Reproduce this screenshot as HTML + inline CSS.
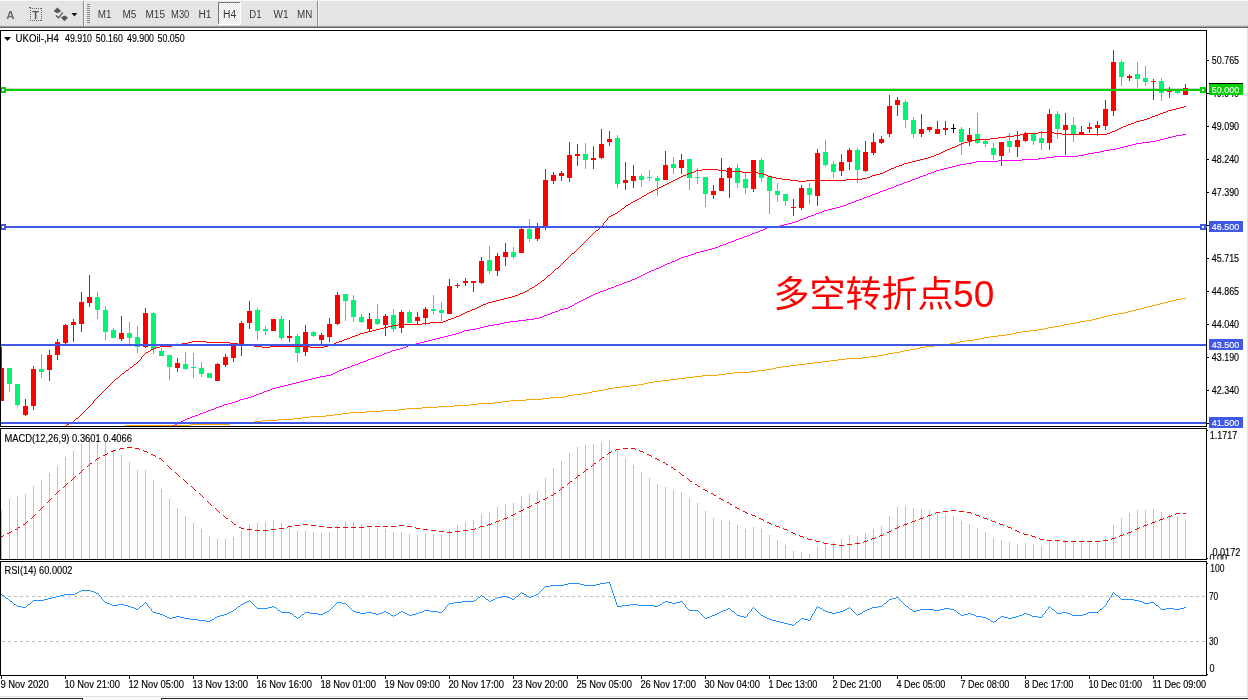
<!DOCTYPE html>
<html><head><meta charset="utf-8"><title>UKOil H4</title>
<style>
html,body{margin:0;padding:0;background:#fff;}
body{width:1248px;height:700px;overflow:hidden;position:relative;}
svg{position:absolute;left:0;top:0;display:block;will-change:transform;}
text{font-family:"Liberation Sans","Noto Sans CJK SC",sans-serif;font-size:10.2px;fill:#000;stroke:#000;stroke-width:0.15px;}
.w{stroke:#fff;}
.tb{stroke:none;}
.c{shape-rendering:crispEdges;}
.tb{fill:#3a3a3a;font-size:10px;}
.w{fill:#fff;font-size:9.8px;}
</style></head><body>
<svg width="1248" height="700" viewBox="0 0 1248 700">

<g class="c">
<rect x="0" y="0" width="1248" height="26" fill="#e4e4e4"/>
<rect x="0" y="0" width="1248" height="1" fill="#f8f8f8"/>
<pattern id="chk" width="2" height="2" patternUnits="userSpaceOnUse"><rect width="2" height="2" fill="#e4e4e4"/><rect width="1" height="1" fill="#fff"/><rect x="1" y="1" width="1" height="1" fill="#fff"/></pattern>
<rect x="0" y="25" width="1248" height="1" fill="#d6d6d6"/>
<rect x="0" y="26" width="1248" height="1" fill="#a0a0a0"/>
<rect x="0" y="27" width="1248" height="1" fill="#646464"/>
<rect x="0" y="28" width="1248" height="2" fill="#ffffff"/>
<rect x="83" y="1" width="1" height="25" fill="#8c8c8c"/>
<rect x="84" y="1" width="1" height="25" fill="#f8f8f8"/>
<rect x="87" y="4" width="3" height="1" fill="#8a8a8a"/>
<rect x="87" y="6" width="3" height="1" fill="#8a8a8a"/>
<rect x="87" y="8" width="3" height="1" fill="#8a8a8a"/>
<rect x="87" y="10" width="3" height="1" fill="#8a8a8a"/>
<rect x="87" y="12" width="3" height="1" fill="#8a8a8a"/>
<rect x="87" y="14" width="3" height="1" fill="#8a8a8a"/>
<rect x="87" y="16" width="3" height="1" fill="#8a8a8a"/>
<rect x="87" y="18" width="3" height="1" fill="#8a8a8a"/>
<rect x="87" y="20" width="3" height="1" fill="#8a8a8a"/>
<rect x="87" y="22" width="3" height="1" fill="#8a8a8a"/>
<rect x="317" y="1" width="1" height="25" fill="#8c8c8c"/>
<rect x="318" y="1" width="1" height="25" fill="#f8f8f8"/>
<rect x="219" y="3" width="21" height="21" fill="url(#chk)"/>
<rect x="218" y="2" width="22" height="1" fill="#7a7a7a"/><rect x="218" y="2" width="1" height="22" fill="#7a7a7a"/>
<rect x="218" y="24" width="23" height="1" fill="#ffffff"/><rect x="240" y="2" width="1" height="23" fill="#ffffff"/>
<rect x="30" y="8" width="1" height="1" fill="#666"/><rect x="30" y="20" width="1" height="1" fill="#666"/>
<rect x="32" y="8" width="1" height="1" fill="#666"/><rect x="32" y="20" width="1" height="1" fill="#666"/>
<rect x="34" y="8" width="1" height="1" fill="#666"/><rect x="34" y="20" width="1" height="1" fill="#666"/>
<rect x="36" y="8" width="1" height="1" fill="#666"/><rect x="36" y="20" width="1" height="1" fill="#666"/>
<rect x="38" y="8" width="1" height="1" fill="#666"/><rect x="38" y="20" width="1" height="1" fill="#666"/>
<rect x="40" y="8" width="1" height="1" fill="#666"/><rect x="40" y="20" width="1" height="1" fill="#666"/>
<rect x="41" y="8" width="1" height="1" fill="#666"/><rect x="41" y="20" width="1" height="1" fill="#666"/>
<rect x="30" y="10" width="1" height="1" fill="#666"/><rect x="41" y="10" width="1" height="1" fill="#666"/>
<rect x="30" y="12" width="1" height="1" fill="#666"/><rect x="41" y="12" width="1" height="1" fill="#666"/>
<rect x="30" y="14" width="1" height="1" fill="#666"/><rect x="41" y="14" width="1" height="1" fill="#666"/>
<rect x="30" y="16" width="1" height="1" fill="#666"/><rect x="41" y="16" width="1" height="1" fill="#666"/>
<rect x="30" y="18" width="1" height="1" fill="#666"/><rect x="41" y="18" width="1" height="1" fill="#666"/>
<rect x="29" y="7" width="2" height="1" fill="#666"/>
</g>
<path d="M57.4 7.6 L61.2 11.2 L57.4 13.2 L53.6 11.2Z M64.4 15.4 L68.2 17.6 L64.4 21.2 L60.8 17.6Z" fill="#555"/>
<path d="M55.8 15.6 L58.6 17.8 L62.9 12.3" fill="none" stroke="#555" stroke-width="1.3"/>
<path d="M71.5 13 L77.3 13 L74.4 16.4Z" fill="#111"/>
<text x="6.3" y="18.8" style="font-size:11.6px;font-weight:bold;fill:#6a6a6a;stroke:none">A</text>
<text x="32.2" y="18.9" style="font-size:11px;font-weight:bold;fill:#5a5a5a;stroke:none">T</text>
<text class="tb" x="97.8" y="18" textLength="13.7" lengthAdjust="spacingAndGlyphs">M1</text>
<text class="tb" x="122.5" y="18" textLength="13.9" lengthAdjust="spacingAndGlyphs">M5</text>
<text class="tb" x="145.5" y="18" textLength="19.5" lengthAdjust="spacingAndGlyphs">M15</text>
<text class="tb" x="171.1" y="18" textLength="18.2" lengthAdjust="spacingAndGlyphs">M30</text>
<text class="tb" x="198.4" y="18" textLength="13" lengthAdjust="spacingAndGlyphs">H1</text>
<text class="tb" x="223.1" y="18" textLength="13.2" lengthAdjust="spacingAndGlyphs">H4</text>
<text class="tb" x="249.2" y="18" textLength="12.3" lengthAdjust="spacingAndGlyphs">D1</text>
<text class="tb" x="273.5" y="18" textLength="15" lengthAdjust="spacingAndGlyphs">W1</text>
<text class="tb" x="297.1" y="18" textLength="15.3" lengthAdjust="spacingAndGlyphs">MN</text>
<g class="c">
<rect x="0" y="30" width="1207" height="646" fill="#fff"/>
<rect x="1247" y="28" width="1" height="669" fill="#e3e3e3"/>
</g>
<g class="c">
<rect x="1" y="88" width="1205" height="1" fill="#d2d2d2"/>
<rect x="1" y="347" width="1" height="54" fill="#ff0000"/>
<rect x="1" y="368" width="3" height="33" fill="#ff0000"/>
<rect x="9" y="368" width="1" height="24" fill="#00f576"/>
<rect x="7" y="368" width="5" height="16" fill="#00f576"/>
<rect x="17" y="384" width="1" height="23" fill="#00f576"/>
<rect x="15" y="384" width="5" height="21" fill="#00f576"/>
<rect x="25" y="399" width="1" height="17" fill="#ff0000"/>
<rect x="23" y="406" width="5" height="9" fill="#ff0000"/>
<rect x="33" y="366" width="1" height="44" fill="#ff0000"/>
<rect x="31" y="369" width="5" height="37" fill="#ff0000"/>
<rect x="41" y="354" width="1" height="24" fill="#00f576"/>
<rect x="39" y="369" width="5" height="3" fill="#00f576"/>
<rect x="49" y="350" width="1" height="31" fill="#ff0000"/>
<rect x="47" y="355" width="5" height="15" fill="#ff0000"/>
<rect x="57" y="339" width="1" height="21" fill="#ff0000"/>
<rect x="55" y="342" width="5" height="13" fill="#ff0000"/>
<rect x="65" y="324" width="1" height="20" fill="#ff0000"/>
<rect x="63" y="325" width="5" height="18" fill="#ff0000"/>
<rect x="73" y="319" width="1" height="23" fill="#ff0000"/>
<rect x="71" y="322" width="5" height="3" fill="#ff0000"/>
<rect x="81" y="292" width="1" height="40" fill="#ff0000"/>
<rect x="79" y="302" width="5" height="22" fill="#ff0000"/>
<rect x="89" y="275" width="1" height="32" fill="#ff0000"/>
<rect x="87" y="297" width="5" height="6" fill="#ff0000"/>
<rect x="97" y="292" width="1" height="27" fill="#00f576"/>
<rect x="95" y="297" width="5" height="13" fill="#00f576"/>
<rect x="105" y="306" width="1" height="34" fill="#00f576"/>
<rect x="103" y="310" width="5" height="22" fill="#00f576"/>
<rect x="113" y="328" width="1" height="10" fill="#00f576"/>
<rect x="111" y="330" width="5" height="8" fill="#00f576"/>
<rect x="121" y="316" width="1" height="25" fill="#ff0000"/>
<rect x="119" y="333" width="5" height="6" fill="#ff0000"/>
<rect x="129" y="322" width="1" height="22" fill="#00f576"/>
<rect x="127" y="333" width="5" height="5" fill="#00f576"/>
<rect x="137" y="326" width="1" height="27" fill="#00f576"/>
<rect x="135" y="337" width="5" height="10" fill="#00f576"/>
<rect x="145" y="308" width="1" height="40" fill="#ff0000"/>
<rect x="143" y="313" width="5" height="34" fill="#ff0000"/>
<rect x="153" y="312" width="1" height="42" fill="#00f576"/>
<rect x="151" y="313" width="5" height="36" fill="#00f576"/>
<rect x="161" y="348" width="1" height="8" fill="#00f576"/>
<rect x="159" y="351" width="5" height="5" fill="#00f576"/>
<rect x="169" y="355" width="1" height="25" fill="#00f576"/>
<rect x="167" y="355" width="5" height="12" fill="#00f576"/>
<rect x="177" y="358" width="1" height="14" fill="#ff0000"/>
<rect x="175" y="363" width="5" height="5" fill="#ff0000"/>
<rect x="185" y="352" width="1" height="18" fill="#00f576"/>
<rect x="183" y="364" width="5" height="5" fill="#00f576"/>
<rect x="193" y="353" width="1" height="25" fill="#00f576"/>
<rect x="191" y="367" width="5" height="1" fill="#00f576"/>
<rect x="201" y="362" width="1" height="15" fill="#00f576"/>
<rect x="199" y="368" width="5" height="6" fill="#00f576"/>
<rect x="209" y="373" width="1" height="5" fill="#00f576"/>
<rect x="207" y="373" width="5" height="5" fill="#00f576"/>
<rect x="217" y="363" width="1" height="18" fill="#ff0000"/>
<rect x="215" y="364" width="5" height="17" fill="#ff0000"/>
<rect x="225" y="354" width="1" height="13" fill="#ff0000"/>
<rect x="223" y="357" width="5" height="8" fill="#ff0000"/>
<rect x="233" y="343" width="1" height="19" fill="#ff0000"/>
<rect x="231" y="345" width="5" height="13" fill="#ff0000"/>
<rect x="241" y="321" width="1" height="35" fill="#ff0000"/>
<rect x="239" y="323" width="5" height="21" fill="#ff0000"/>
<rect x="249" y="301" width="1" height="28" fill="#ff0000"/>
<rect x="247" y="311" width="5" height="12" fill="#ff0000"/>
<rect x="257" y="308" width="1" height="32" fill="#00f576"/>
<rect x="255" y="310" width="5" height="21" fill="#00f576"/>
<rect x="265" y="326" width="1" height="9" fill="#00f576"/>
<rect x="263" y="329" width="5" height="2" fill="#00f576"/>
<rect x="273" y="319" width="1" height="12" fill="#ff0000"/>
<rect x="271" y="319" width="5" height="12" fill="#ff0000"/>
<rect x="281" y="316" width="1" height="24" fill="#00f576"/>
<rect x="279" y="319" width="5" height="19" fill="#00f576"/>
<rect x="289" y="320" width="1" height="22" fill="#ff0000"/>
<rect x="287" y="336" width="5" height="2" fill="#ff0000"/>
<rect x="297" y="334" width="1" height="28" fill="#00f576"/>
<rect x="295" y="336" width="5" height="17" fill="#00f576"/>
<rect x="305" y="325" width="1" height="31" fill="#ff0000"/>
<rect x="303" y="332" width="5" height="20" fill="#ff0000"/>
<rect x="313" y="331" width="1" height="6" fill="#00f576"/>
<rect x="311" y="332" width="5" height="4" fill="#00f576"/>
<rect x="321" y="333" width="1" height="13" fill="#ff0000"/>
<rect x="319" y="335" width="5" height="5" fill="#ff0000"/>
<rect x="329" y="318" width="1" height="24" fill="#ff0000"/>
<rect x="327" y="324" width="5" height="13" fill="#ff0000"/>
<rect x="337" y="292" width="1" height="33" fill="#ff0000"/>
<rect x="335" y="295" width="5" height="29" fill="#ff0000"/>
<rect x="345" y="294" width="1" height="27" fill="#00f576"/>
<rect x="343" y="294" width="5" height="7" fill="#00f576"/>
<rect x="353" y="295" width="1" height="27" fill="#00f576"/>
<rect x="351" y="300" width="5" height="17" fill="#00f576"/>
<rect x="361" y="314" width="1" height="9" fill="#00f576"/>
<rect x="359" y="317" width="5" height="5" fill="#00f576"/>
<rect x="369" y="313" width="1" height="19" fill="#ff0000"/>
<rect x="367" y="319" width="5" height="10" fill="#ff0000"/>
<rect x="377" y="304" width="1" height="21" fill="#00f576"/>
<rect x="375" y="319" width="5" height="5" fill="#00f576"/>
<rect x="385" y="314" width="1" height="22" fill="#ff0000"/>
<rect x="383" y="316" width="5" height="9" fill="#ff0000"/>
<rect x="393" y="309" width="1" height="23" fill="#00f576"/>
<rect x="391" y="315" width="5" height="14" fill="#00f576"/>
<rect x="401" y="310" width="1" height="23" fill="#ff0000"/>
<rect x="399" y="312" width="5" height="16" fill="#ff0000"/>
<rect x="409" y="310" width="1" height="13" fill="#00f576"/>
<rect x="407" y="312" width="5" height="11" fill="#00f576"/>
<rect x="417" y="312" width="1" height="12" fill="#ff0000"/>
<rect x="415" y="317" width="5" height="4" fill="#ff0000"/>
<rect x="425" y="307" width="1" height="18" fill="#ff0000"/>
<rect x="423" y="309" width="5" height="9" fill="#ff0000"/>
<rect x="433" y="295" width="1" height="20" fill="#00f576"/>
<rect x="431" y="309" width="5" height="2" fill="#00f576"/>
<rect x="441" y="302" width="1" height="19" fill="#00f576"/>
<rect x="439" y="310" width="5" height="3" fill="#00f576"/>
<rect x="449" y="279" width="1" height="35" fill="#ff0000"/>
<rect x="447" y="286" width="5" height="28" fill="#ff0000"/>
<rect x="457" y="283" width="1" height="5" fill="#ff0000"/>
<rect x="455" y="285" width="5" height="1" fill="#ff0000"/>
<rect x="465" y="278" width="1" height="8" fill="#ff0000"/>
<rect x="463" y="281" width="5" height="2" fill="#ff0000"/>
<rect x="473" y="281" width="1" height="11" fill="#ff0000"/>
<rect x="471" y="281" width="5" height="2" fill="#ff0000"/>
<rect x="481" y="257" width="1" height="27" fill="#ff0000"/>
<rect x="479" y="261" width="5" height="22" fill="#ff0000"/>
<rect x="489" y="246" width="1" height="28" fill="#00f576"/>
<rect x="487" y="260" width="5" height="11" fill="#00f576"/>
<rect x="497" y="253" width="1" height="23" fill="#ff0000"/>
<rect x="495" y="256" width="5" height="15" fill="#ff0000"/>
<rect x="505" y="243" width="1" height="23" fill="#ff0000"/>
<rect x="503" y="252" width="5" height="5" fill="#ff0000"/>
<rect x="513" y="247" width="1" height="12" fill="#00f576"/>
<rect x="511" y="252" width="5" height="5" fill="#00f576"/>
<rect x="521" y="228" width="1" height="25" fill="#ff0000"/>
<rect x="519" y="229" width="5" height="24" fill="#ff0000"/>
<rect x="529" y="219" width="1" height="23" fill="#00f576"/>
<rect x="527" y="229" width="5" height="10" fill="#00f576"/>
<rect x="537" y="223" width="1" height="18" fill="#ff0000"/>
<rect x="535" y="228" width="5" height="11" fill="#ff0000"/>
<rect x="545" y="169" width="1" height="61" fill="#ff0000"/>
<rect x="543" y="180" width="5" height="47" fill="#ff0000"/>
<rect x="553" y="172" width="1" height="12" fill="#ff0000"/>
<rect x="551" y="175" width="5" height="6" fill="#ff0000"/>
<rect x="561" y="171" width="1" height="10" fill="#ff0000"/>
<rect x="559" y="173" width="5" height="3" fill="#ff0000"/>
<rect x="569" y="142" width="1" height="40" fill="#ff0000"/>
<rect x="567" y="155" width="5" height="23" fill="#ff0000"/>
<rect x="577" y="144" width="1" height="22" fill="#ff0000"/>
<rect x="575" y="154" width="5" height="2" fill="#ff0000"/>
<rect x="585" y="143" width="1" height="26" fill="#00f576"/>
<rect x="583" y="154" width="5" height="6" fill="#00f576"/>
<rect x="593" y="146" width="1" height="23" fill="#ff0000"/>
<rect x="591" y="158" width="5" height="2" fill="#ff0000"/>
<rect x="601" y="129" width="1" height="30" fill="#ff0000"/>
<rect x="599" y="144" width="5" height="14" fill="#ff0000"/>
<rect x="609" y="131" width="1" height="15" fill="#ff0000"/>
<rect x="607" y="139" width="5" height="3" fill="#ff0000"/>
<rect x="617" y="135" width="1" height="53" fill="#00f576"/>
<rect x="615" y="138" width="5" height="46" fill="#00f576"/>
<rect x="625" y="162" width="1" height="28" fill="#ff0000"/>
<rect x="623" y="180" width="5" height="3" fill="#ff0000"/>
<rect x="633" y="165" width="1" height="23" fill="#ff0000"/>
<rect x="631" y="176" width="5" height="5" fill="#ff0000"/>
<rect x="641" y="174" width="1" height="13" fill="#00f576"/>
<rect x="639" y="176" width="5" height="4" fill="#00f576"/>
<rect x="649" y="170" width="1" height="11" fill="#00f576"/>
<rect x="647" y="177" width="5" height="1" fill="#00f576"/>
<rect x="657" y="176" width="1" height="20" fill="#00f576"/>
<rect x="655" y="178" width="5" height="3" fill="#00f576"/>
<rect x="665" y="151" width="1" height="29" fill="#ff0000"/>
<rect x="663" y="165" width="5" height="15" fill="#ff0000"/>
<rect x="673" y="157" width="1" height="17" fill="#00f576"/>
<rect x="671" y="164" width="5" height="4" fill="#00f576"/>
<rect x="681" y="154" width="1" height="20" fill="#ff0000"/>
<rect x="679" y="160" width="5" height="8" fill="#ff0000"/>
<rect x="689" y="159" width="1" height="31" fill="#00f576"/>
<rect x="687" y="159" width="5" height="19" fill="#00f576"/>
<rect x="697" y="168" width="1" height="16" fill="#00f576"/>
<rect x="695" y="177" width="5" height="1" fill="#00f576"/>
<rect x="705" y="177" width="1" height="30" fill="#00f576"/>
<rect x="703" y="177" width="5" height="17" fill="#00f576"/>
<rect x="713" y="185" width="1" height="14" fill="#ff0000"/>
<rect x="711" y="191" width="5" height="4" fill="#ff0000"/>
<rect x="721" y="158" width="1" height="33" fill="#ff0000"/>
<rect x="719" y="178" width="5" height="13" fill="#ff0000"/>
<rect x="729" y="167" width="1" height="31" fill="#ff0000"/>
<rect x="727" y="168" width="5" height="10" fill="#ff0000"/>
<rect x="737" y="164" width="1" height="24" fill="#00f576"/>
<rect x="735" y="168" width="5" height="15" fill="#00f576"/>
<rect x="745" y="172" width="1" height="22" fill="#00f576"/>
<rect x="743" y="179" width="5" height="9" fill="#00f576"/>
<rect x="753" y="160" width="1" height="32" fill="#ff0000"/>
<rect x="751" y="160" width="5" height="29" fill="#ff0000"/>
<rect x="761" y="158" width="1" height="24" fill="#00f576"/>
<rect x="759" y="160" width="5" height="18" fill="#00f576"/>
<rect x="769" y="175" width="1" height="39" fill="#00f576"/>
<rect x="767" y="177" width="5" height="14" fill="#00f576"/>
<rect x="777" y="183" width="1" height="19" fill="#00f576"/>
<rect x="775" y="191" width="5" height="4" fill="#00f576"/>
<rect x="785" y="194" width="1" height="12" fill="#00f576"/>
<rect x="783" y="194" width="5" height="7" fill="#00f576"/>
<rect x="793" y="199" width="1" height="17" fill="#ff0000"/>
<rect x="791" y="207" width="5" height="1" fill="#ff0000"/>
<rect x="801" y="185" width="1" height="25" fill="#ff0000"/>
<rect x="799" y="188" width="5" height="20" fill="#ff0000"/>
<rect x="809" y="183" width="1" height="21" fill="#00f576"/>
<rect x="807" y="188" width="5" height="7" fill="#00f576"/>
<rect x="817" y="149" width="1" height="57" fill="#ff0000"/>
<rect x="815" y="153" width="5" height="43" fill="#ff0000"/>
<rect x="825" y="140" width="1" height="27" fill="#00f576"/>
<rect x="823" y="152" width="5" height="13" fill="#00f576"/>
<rect x="833" y="161" width="1" height="17" fill="#00f576"/>
<rect x="831" y="164" width="5" height="8" fill="#00f576"/>
<rect x="841" y="154" width="1" height="22" fill="#ff0000"/>
<rect x="839" y="162" width="5" height="9" fill="#ff0000"/>
<rect x="849" y="148" width="1" height="22" fill="#ff0000"/>
<rect x="847" y="150" width="5" height="12" fill="#ff0000"/>
<rect x="857" y="148" width="1" height="35" fill="#00f576"/>
<rect x="855" y="150" width="5" height="20" fill="#00f576"/>
<rect x="865" y="141" width="1" height="31" fill="#ff0000"/>
<rect x="863" y="152" width="5" height="19" fill="#ff0000"/>
<rect x="873" y="133" width="1" height="22" fill="#ff0000"/>
<rect x="871" y="142" width="5" height="11" fill="#ff0000"/>
<rect x="881" y="136" width="1" height="8" fill="#ff0000"/>
<rect x="879" y="139" width="5" height="4" fill="#ff0000"/>
<rect x="889" y="95" width="1" height="42" fill="#ff0000"/>
<rect x="887" y="106" width="5" height="28" fill="#ff0000"/>
<rect x="897" y="97" width="1" height="19" fill="#ff0000"/>
<rect x="895" y="100" width="5" height="5" fill="#ff0000"/>
<rect x="905" y="100" width="1" height="28" fill="#00f576"/>
<rect x="903" y="102" width="5" height="18" fill="#00f576"/>
<rect x="913" y="117" width="1" height="21" fill="#00f576"/>
<rect x="911" y="120" width="5" height="14" fill="#00f576"/>
<rect x="921" y="114" width="1" height="23" fill="#ff0000"/>
<rect x="919" y="129" width="5" height="5" fill="#ff0000"/>
<rect x="929" y="127" width="1" height="5" fill="#ff0000"/>
<rect x="927" y="127" width="5" height="3" fill="#ff0000"/>
<rect x="937" y="121" width="1" height="13" fill="#ff0000"/>
<rect x="935" y="129" width="5" height="5" fill="#ff0000"/>
<rect x="945" y="121" width="1" height="14" fill="#ff0000"/>
<rect x="943" y="128" width="5" height="2" fill="#ff0000"/>
<rect x="953" y="124" width="1" height="9" fill="#000"/>
<rect x="951" y="128" width="5" height="1" fill="#000"/>
<rect x="961" y="127" width="1" height="28" fill="#00f576"/>
<rect x="959" y="129" width="5" height="13" fill="#00f576"/>
<rect x="969" y="128" width="1" height="18" fill="#ff0000"/>
<rect x="967" y="135" width="5" height="6" fill="#ff0000"/>
<rect x="977" y="113" width="1" height="31" fill="#00f576"/>
<rect x="975" y="134" width="5" height="9" fill="#00f576"/>
<rect x="985" y="140" width="1" height="7" fill="#00f576"/>
<rect x="983" y="141" width="5" height="3" fill="#00f576"/>
<rect x="993" y="143" width="1" height="17" fill="#00f576"/>
<rect x="991" y="148" width="5" height="7" fill="#00f576"/>
<rect x="1001" y="142" width="1" height="24" fill="#ff0000"/>
<rect x="999" y="142" width="5" height="14" fill="#ff0000"/>
<rect x="1009" y="133" width="1" height="20" fill="#00f576"/>
<rect x="1007" y="141" width="5" height="6" fill="#00f576"/>
<rect x="1017" y="131" width="1" height="26" fill="#ff0000"/>
<rect x="1015" y="140" width="5" height="7" fill="#ff0000"/>
<rect x="1025" y="132" width="1" height="10" fill="#ff0000"/>
<rect x="1023" y="134" width="5" height="7" fill="#ff0000"/>
<rect x="1033" y="134" width="1" height="11" fill="#00f576"/>
<rect x="1031" y="134" width="5" height="7" fill="#00f576"/>
<rect x="1041" y="131" width="1" height="19" fill="#00f576"/>
<rect x="1039" y="138" width="5" height="5" fill="#00f576"/>
<rect x="1049" y="109" width="1" height="41" fill="#ff0000"/>
<rect x="1047" y="114" width="5" height="29" fill="#ff0000"/>
<rect x="1057" y="111" width="1" height="28" fill="#00f576"/>
<rect x="1055" y="114" width="5" height="15" fill="#00f576"/>
<rect x="1065" y="113" width="1" height="42" fill="#ff0000"/>
<rect x="1063" y="125" width="5" height="5" fill="#ff0000"/>
<rect x="1073" y="117" width="1" height="25" fill="#00f576"/>
<rect x="1071" y="125" width="5" height="9" fill="#00f576"/>
<rect x="1081" y="126" width="1" height="9" fill="#ff0000"/>
<rect x="1079" y="132" width="5" height="2" fill="#ff0000"/>
<rect x="1089" y="123" width="1" height="10" fill="#ff0000"/>
<rect x="1087" y="127" width="5" height="2" fill="#ff0000"/>
<rect x="1097" y="121" width="1" height="15" fill="#ff0000"/>
<rect x="1095" y="125" width="5" height="3" fill="#ff0000"/>
<rect x="1105" y="100" width="1" height="30" fill="#ff0000"/>
<rect x="1103" y="109" width="5" height="17" fill="#ff0000"/>
<rect x="1113" y="50" width="1" height="66" fill="#ff0000"/>
<rect x="1111" y="62" width="5" height="49" fill="#ff0000"/>
<rect x="1121" y="60" width="1" height="26" fill="#00f576"/>
<rect x="1119" y="62" width="5" height="15" fill="#00f576"/>
<rect x="1129" y="74" width="1" height="7" fill="#ff0000"/>
<rect x="1127" y="76" width="5" height="2" fill="#ff0000"/>
<rect x="1137" y="62" width="1" height="26" fill="#00f576"/>
<rect x="1135" y="74" width="5" height="5" fill="#00f576"/>
<rect x="1145" y="66" width="1" height="20" fill="#00f576"/>
<rect x="1143" y="78" width="5" height="4" fill="#00f576"/>
<rect x="1153" y="79" width="1" height="21" fill="#ff0000"/>
<rect x="1151" y="81" width="5" height="1" fill="#ff0000"/>
<rect x="1161" y="78" width="1" height="23" fill="#00f576"/>
<rect x="1159" y="81" width="5" height="12" fill="#00f576"/>
<rect x="1169" y="87" width="1" height="11" fill="#ff0000"/>
<rect x="1167" y="91" width="5" height="1" fill="#ff0000"/>
<rect x="1177" y="90" width="1" height="4" fill="#00f576"/>
<rect x="1175" y="91" width="5" height="2" fill="#00f576"/>
<rect x="1185" y="84" width="1" height="11" fill="#ff0000"/>
<rect x="1183" y="88" width="5" height="7" fill="#ff0000"/>
</g>
<clipPath id="cm"><rect x="1" y="31" width="1205" height="395"/></clipPath>
<g clip-path="url(#cm)">
<path class="c" d="M1092 319.5h4M438 406.5h16M1168 301.5h4M1048 327.5h6M190 424.5h40M782 366.5h8M798 364.5h8M998 335.5h8M382 410.5h16M526 399.5h16M638 384.5h6M862 357.5h8M310 416.5h16M125 425.5h65M494 402.5h8M830 360.5h8M568 395.5h6M662 380.5h8M454 405.5h16M904 350.5h6M366 411.5h16M1136 309.5h4M772 368.5h4M608 388.5h6M990 336.5h8M1076 322.5h4M622 386.5h8M846 358.5h16M326 415.5h8M822 361.5h8M920 347.5h6M838 359.5h8M942 344.5h8M884 354.5h4M734 372.5h16M702 375.5h16M278 419.5h16M806 363.5h8M1064 324.5h6M398 409.5h8M542 398.5h8M350 412.5h16M502 401.5h8M230 423.5h8M956 342.5h4M870 356.5h8M470 404.5h8M718 374.5h8M422 407.5h16M776 367.5h6M1044 328.5h4M630 385.5h8M334 414.5h8M1182 298.5h4M950 343.5h6M582 393.5h6M262 420.5h16M1016 332.5h6M564 396.5h4M654 381.5h8M670 379.5h8M900 351.5h4M984 337.5h6M766 369.5h6M966 340.5h8M1176 299.5h6M604 389.5h4M814 362.5h8M406 408.5h16M1070 323.5h6M934 345.5h8M1112 314.5h6M1144 307.5h4M1156 304.5h4M510 400.5h16M238 422.5h16M916 348.5h4M1022 331.5h8M878 355.5h6M478 403.5h16M726 373.5h8M592 391.5h6M694 376.5h8M1118 313.5h6M342 413.5h8M1080 321.5h6M678 378.5h8M1132 310.5h4M1100 317.5h4M974 339.5h6M1006 334.5h6M254 421.5h8M648 382.5h6M294 418.5h8M574 394.5h8M1030 330.5h8M894 352.5h6M758 370.5h8M1104 316.5h4M598 390.5h6M980 338.5h4M1140 308.5h4M926 346.5h8M1086 320.5h6M750 371.5h8M686 377.5h8M1164 302.5h4M302 417.5h8M1128 311.5h4M1172 300.5h4M614 387.5h8M1152 305.5h4M790 365.5h8M644 383.5h4M888 353.5h6M1060 325.5h4M1160 303.5h4M960 341.5h6M910 349.5h6M550 397.5h14M1148 306.5h4M1054 326.5h6M1108 315.5h4M1096 318.5h4M1012 333.5h4M1124 312.5h4M588 392.5h4M1038 329.5h6" fill="none" stroke="#ffa500" stroke-width="1"/>
<path class="c" d="M400 348.5h3M228 403.5h4M665 264.5h2M292 383.5h4M440 337.5h4M304 380.5h4M534 318.5h5M272 388.5h4M795 221.5h3M195 415.5h3M200 413.5h3M769 226.5h11M1110 149.5h6M752 233.5h3M679 258.5h2M316 377.5h4M883 190.5h3M1176 135.5h6M504 322.5h6M350 366.5h2M936 170.5h4M211 409.5h3M1046 157.5h8M608 288.5h3M998 160.5h24M641 275.5h2M256 394.5h3M767 227.5h2M181 421.5h2M406 346.5h2M464 330.5h6M235 401.5h3M976 161.5h22M1104 150.5h6M1136 143.5h6M448 335.5h4M649 271.5h2M736 239.5h3M960 164.5h6M280 386.5h4M579 301.5h2M832 208.5h4M920 176.5h3M1120 147.5h4M494 324.5h6M387 352.5h3M708 249.5h4M763 229.5h2M177 423.5h2M684 256.5h4M811 215.5h3M185 419.5h2M412 344.5h4M742 237.5h2M624 282.5h3M1124 146.5h4M1054 156.5h24M456 333.5h3M1088 153.5h6M872 194.5h3M926 174.5h2M1022 159.5h16M436 338.5h4M1142 142.5h8M526 319.5h8M691 254.5h3M840 206.5h3M894 186.5h2M244 398.5h4M822 211.5h2M966 163.5h6M661 266.5h2M726 243.5h2M1078 155.5h6M1160 139.5h4M788 223.5h4M1172 136.5h4M500 323.5h4M1132 144.5h4M856 200.5h3M910 180.5h2M747 235.5h3M675 260.5h2M956 165.5h4M368 359.5h3M878 192.5h2M931 172.5h3M806 217.5h2M444 336.5h4M720 245.5h3M696 252.5h4M424 341.5h4M488 325.5h6M637 277.5h2M203 412.5h3M851 202.5h3M828 209.5h4M384 353.5h3M300 381.5h4M731 241.5h3M800 219.5h3M352 365.5h3M575 303.5h2M915 178.5h3M173 425.5h2M1084 154.5h4M544 315.5h3M326 375.5h5M888 188.5h3M208 410.5h3M944 168.5h4M656 268.5h3M432 339.5h4M1038 158.5h8M836 207.5h4M476 328.5h4M240 399.5h4M560 309.5h4M390 351.5h2M867 196.5h3M219 406.5h3M288 384.5h4M647 272.5h2M264 391.5h3M784 224.5h4M192 416.5h3M816 213.5h3M744 236.5h3M333 373.5h2M555 311.5h3M595 293.5h3M214 408.5h2M928 173.5h3M342 369.5h2M396 349.5h4M904 182.5h3M694 253.5h2M248 397.5h3M363 361.5h3M824 210.5h4M667 263.5h3M518 320.5h8M337 371.5h2M632 279.5h3M198 414.5h2M312 378.5h4M379 355.5h3M755 232.5h3M606 289.5h2M1168 137.5h4M347 367.5h3M254 395.5h2M510 321.5h8M403 347.5h3M572 305.5h2M723 244.5h3M627 281.5h3M539 317.5h3M616 285.5h3M470 329.5h6M1094 152.5h6M672 261.5h3M651 270.5h3M704 250.5h4M760 230.5h3M681 257.5h3M577 302.5h2M886 189.5h2M728 242.5h3M611 287.5h3M1100 151.5h4M643 274.5h2M259 393.5h3M408 345.5h4M859 199.5h3M187 418.5h3M452 334.5h4M739 238.5h3M591 295.5h2M808 216.5h3M360 362.5h3M870 195.5h2M923 175.5h3M276 387.5h4M712 248.5h3M688 255.5h3M183 420.5h2M552 312.5h3M843 205.5h3M896 185.5h3M308 379.5h4M819 212.5h3M224 404.5h4M663 265.5h2M864 197.5h3M792 222.5h3M1128 145.5h4M875 193.5h3M1182 134.5h4M750 234.5h2M600 291.5h3M1150 141.5h6M952 166.5h4M371 358.5h3M420 342.5h4M934 171.5h2M972 162.5h4M484 326.5h4M339 370.5h3M700 251.5h4M222 405.5h2M232 402.5h3M296 382.5h4M912 179.5h3M1156 140.5h4M320 376.5h6M780 225.5h4M880 191.5h3M1116 148.5h4M175 424.5h2M547 314.5h3M428 340.5h4M639 276.5h2M206 411.5h2M854 201.5h2M376 356.5h3M940 169.5h4M238 400.5h2M570 306.5h2M803 218.5h3M355 364.5h3M1164 138.5h4M284 385.5h4M179 422.5h2M267 390.5h3M382 354.5h2M891 187.5h3M659 267.5h2M216 407.5h3M416 343.5h4M392 350.5h4M459 332.5h3M619 284.5h3M366 360.5h2M335 372.5h2M558 310.5h2M635 278.5h2M603 290.5h3M190 417.5h2M251 396.5h3M670 262.5h2M542 316.5h2M564 308.5h4M758 231.5h2M645 273.5h2M262 392.5h2M654 269.5h2M593 294.5h2M862 198.5h2M589 296.5h2M331 374.5h2M630 280.5h2M948 167.5h4M462 331.5h2M715 247.5h3M480 327.5h4M846 204.5h2M899 184.5h3M374 357.5h2M344 368.5h3M358 363.5h2M550 313.5h2M585 298.5h2M765 228.5h2M622 283.5h2M270 389.5h2M568 307.5h2M907 181.5h3M581 300.5h2M734 240.5h2M918 177.5h2M587 297.5h2M814 214.5h2M718 246.5h2M848 203.5h3M902 183.5h2M798 220.5h2M583 299.5h2M598 292.5h2M614 286.5h2M677 259.5h2M574.5 304v1" fill="none" stroke="#ff00ff" stroke-width="1"/>
<path class="c" d="M908 162.5h4M1144 119.5h3M647 193.5h2M976 139.5h14M671 181.5h2M798 181.5h8M192 341.5h14M339 341.5h3M696 170.5h6M718 170.5h8M887 170.5h2M1112 131.5h3M527 290.5h2M1166 111.5h2M182 343.5h6M230 343.5h8M334 343.5h2M530 288.5h2M1024 133.5h14M1054 133.5h8M1107 133.5h3M675 179.5h2M782 179.5h8M846 179.5h16M1020 134.5h4M1062 134.5h45M422 323.5h8M673 180.5h2M790 180.5h8M806 180.5h40M694 171.5h2M726 171.5h16M885 171.5h2M609 216.5h2M542 280.5h2M912 161.5h4M477 307.5h2M968 141.5h4M188 342.5h4M206 342.5h24M336 342.5h3M156 347.5h4M262 347.5h8M310 347.5h14M535 285.5h2M160 346.5h12M254 346.5h8M270 346.5h40M324 346.5h4M523 292.5h2M677 178.5h2M776 178.5h6M862 178.5h5M1150 117.5h2M430 322.5h13M472 309.5h3M364 332.5h4M451 318.5h3M481 305.5h2M1006 136.5h8M920 159.5h4M651 191.5h2M691 172.5h3M742 172.5h16M883 172.5h2M639 198.5h2M686 174.5h2M763 174.5h3M876 174.5h4M456 316.5h3M990 138.5h8M512 296.5h3M492 301.5h4M688 173.5h3M758 173.5h5M880 173.5h3M398 324.5h24M644 195.5h2M899 165.5h3M964 142.5h4M176 344.5h6M238 344.5h8M331 344.5h3M1038 132.5h16M1110 132.5h2M350 337.5h2M702 169.5h16M889 169.5h2M518 294.5h2M934 155.5h2M172 345.5h4M246 345.5h8M328 345.5h3M500 299.5h4M372 330.5h4M467 311.5h3M998 137.5h8M1128 124.5h3M1172 109.5h4M635 200.5h2M626 205.5h2M1119 128.5h2M1123 126.5h3M148 351.5h2M615 213.5h2M488 302.5h4M380 328.5h4M1134 122.5h2M681 176.5h2M768 176.5h4M870 176.5h2M360 333.5h4M945 150.5h2M1180 107.5h4M683 175.5h3M766 175.5h2M872 175.5h4M1158 114.5h2M448 319.5h3M916 160.5h4M653 190.5h2M894 167.5h2M959 144.5h2M1140 120.5h4M344 339.5h3M368 331.5h4M955 146.5h2M596 230.5h2M1168 110.5h4M392 325.5h6M631 202.5h2M1147 118.5h3M525 291.5h2M1115 130.5h2M679 177.5h2M772 177.5h4M867 177.5h3M475 308.5h2M611 215.5h2M548 275.5h2M483 304.5h3M941 152.5h2M1152 116.5h3M443 321.5h3M479 306.5h2M649 192.5h2M459 315.5h2M924 158.5h4M388 326.5h4M904 163.5h4M1163 112.5h3M669 182.5h2M931 156.5h3M520 293.5h3M496 300.5h4M936 154.5h3M376 329.5h4M470 310.5h2M352 336.5h3M665 184.5h2M153 348.5h3M961 143.5h3M1121 127.5h2M1131 123.5h3M146 352.5h2M1176 108.5h4M637 199.5h2M947 149.5h3M151 349.5h2M508 297.5h4M1126 125.5h2M642 196.5h2M896 166.5h3M130 367.5h2M342 340.5h2M633 201.5h2M1136 121.5h4M1184 106.5h2M134 364.5h2M504 298.5h4M952 147.5h3M515 295.5h3M116 378.5h2M347 338.5h3M661 186.5h2M556 268.5h2M1117 129.5h2M76 418.5h2M613 214.5h2M69 423.5h2M943 151.5h2M1014 135.5h6M618 211.5h2M1155 115.5h3M446 320.5h2M572 253.5h2M891 168.5h3M532 287.5h2M622 208.5h2M384 327.5h4M1160 113.5h3M657 188.5h2M355 335.5h3M667 183.5h2M928 157.5h3M939 153.5h2M950 148.5h2M454 317.5h2M463 313.5h2M663 185.5h2M972 140.5h4M71 422.5h2M628 204.5h2M122 373.5h2M659 187.5h2M126 370.5h2M465 312.5h2M957 145.5h2M67 424.5h2M461 314.5h2M538 283.5h2M358 334.5h2M655 189.5h2M486 303.5h2M902 164.5h2M83.5 412v1M109.5 385v1M592.5 234v1M145.5 353v1M81.5 414v1M82.5 413v1M89.5 406v1M107.5 387v1M590.5 236v1M108.5 386v1M143.5 355v1M534.5 286v1M80.5 415v1M106.5 388v1M605.5 221v1M75.5 419v1M74.5 420v1M607.5 218v2M73.5 421v1M142.5 356v1M580.5 246v1M537.5 284v1M133.5 365v1M138.5 361v1M95.5 399v1M578.5 248v1M136.5 363v1M137.5 362v1M91.5 404v1M93.5 401v2M92.5 403v1M94.5 400v1M577.5 249v1M593.5 233v1M641.5 197v1M564.5 261v1M90.5 405v1M591.5 235v1M562.5 263v1M563.5 262v1M570.5 255v1M114.5 380v1M561.5 264v1M115.5 379v1M120.5 375v1M603.5 223v2M79.5 416v1M118.5 377v1M581.5 245v1M66.5 425v1M554.5 270v1M589.5 237v1M529.5 289v1M141.5 357v2M78.5 417v1M579.5 247v1M96.5 398v1M552.5 272v1M104.5 390v1M587.5 239v1M541.5 281v1M617.5 212v1M102.5 392v1M540.5 282v1M630.5 203v1M101.5 393v1M571.5 254v1M544.5 279v1M620.5 210v1M569.5 256v1M121.5 374v1M575.5 251v1M119.5 376v1M88.5 407v1M125.5 371v1M555.5 269v1M560.5 265v1M86.5 409v1M87.5 408v1M553.5 271v1M105.5 389v1M588.5 238v1M595.5 231v1M112.5 382v1M113.5 381v1M559.5 266v1M85.5 410v1M586.5 240v1M103.5 391v1M110.5 384v1M111.5 383v1M558.5 267v1M594.5 232v1M565.5 260v1M546.5 277v1M547.5 276v1M150.5 350v1M545.5 278v1M550.5 274v1M585.5 241v1M551.5 273v1M621.5 209v1M576.5 250v1M583.5 243v1M100.5 394v1M584.5 242v1M624.5 207v1M625.5 206v1M144.5 354v1M574.5 252v1M98.5 396v1M99.5 395v1M582.5 244v1M606.5 220v1M608.5 217v1M140.5 359v1M124.5 372v1M129.5 368v1M97.5 397v1M567.5 258v1M602.5 225v1M568.5 257v1M604.5 222v1M139.5 360v1M128.5 369v1M600.5 227v1M646.5 194v1M566.5 259v1M601.5 226v1M132.5 366v1M598.5 229v1M84.5 411v1M599.5 228v1" fill="none" stroke="#ff0000" stroke-width="1"/>
</g>
<g class="c">
<rect x="0" y="89" width="1207" height="2" fill="#00d000"/>
<rect x="0" y="87" width="6" height="6" fill="#00d000"/><rect x="2" y="89" width="2" height="2" fill="#fff"/>
<rect x="1200" y="87" width="6" height="6" fill="#00d000"/><rect x="1202" y="89" width="2" height="2" fill="#fff"/>
<rect x="0" y="226" width="1207" height="2" fill="#4058e6"/>
<rect x="0" y="224" width="6" height="6" fill="#4058e6"/><rect x="2" y="226" width="2" height="2" fill="#fff"/>
<rect x="1200" y="224" width="6" height="6" fill="#4058e6"/><rect x="1202" y="226" width="2" height="2" fill="#fff"/>
<rect x="0" y="344" width="1207" height="2" fill="#4058e6"/>
<rect x="0" y="422" width="1207" height="2" fill="#4058e6"/>
</g>
<g class="c" fill="#000">
<rect x="0" y="30" width="1207" height="1"/>
<rect x="0" y="426" width="1207" height="1"/>
<rect x="0" y="428" width="1207" height="1"/>
<rect x="0" y="559" width="1207" height="1"/>
<rect x="0" y="561" width="1207" height="1"/>
<rect x="0" y="675" width="1207" height="1"/>
<rect x="0" y="30" width="1" height="397"/>
<rect x="0" y="428" width="1" height="132"/>
<rect x="0" y="561" width="1" height="115"/>
<rect x="1206" y="30" width="1" height="397"/>
<rect x="1206" y="428" width="1" height="132"/>
<rect x="1206" y="561" width="1" height="115"/>
<rect x="1206" y="226" width="1" height="2" fill="#4058e6"/>
<rect x="0" y="427" width="1207" height="1" fill="#fff"/>
<rect x="0" y="560" width="1207" height="1" fill="#fff"/>
<rect x="1207" y="60" width="2" height="1"/>
<rect x="1207" y="93" width="2" height="1"/>
<rect x="1207" y="126" width="2" height="1"/>
<rect x="1207" y="159" width="2" height="1"/>
<rect x="1207" y="192" width="2" height="1"/>
<rect x="1207" y="225" width="2" height="1"/>
<rect x="1207" y="258" width="2" height="1"/>
<rect x="1207" y="291" width="2" height="1"/>
<rect x="1207" y="324" width="2" height="1"/>
<rect x="1207" y="357" width="2" height="1"/>
<rect x="1207" y="390" width="2" height="1"/>
<rect x="1207" y="423" width="2" height="1"/>
<rect x="1" y="676" width="1" height="3"/>
<rect x="65" y="676" width="1" height="3"/>
<rect x="129" y="676" width="1" height="3"/>
<rect x="193" y="676" width="1" height="3"/>
<rect x="257" y="676" width="1" height="3"/>
<rect x="321" y="676" width="1" height="3"/>
<rect x="385" y="676" width="1" height="3"/>
<rect x="449" y="676" width="1" height="3"/>
<rect x="513" y="676" width="1" height="3"/>
<rect x="577" y="676" width="1" height="3"/>
<rect x="641" y="676" width="1" height="3"/>
<rect x="705" y="676" width="1" height="3"/>
<rect x="769" y="676" width="1" height="3"/>
<rect x="833" y="676" width="1" height="3"/>
<rect x="897" y="676" width="1" height="3"/>
<rect x="961" y="676" width="1" height="3"/>
<rect x="1025" y="676" width="1" height="3"/>
<rect x="1089" y="676" width="1" height="3"/>
<rect x="1153" y="676" width="1" height="3"/>
<rect x="1207" y="430" width="1" height="1"/>
<rect x="1207" y="558" width="1" height="1"/>
<rect x="1207" y="563" width="1" height="1"/>
<rect x="1207" y="674" width="1" height="1"/>
</g>
<text x="1211.8" y="64"  textLength="27.3" lengthAdjust="spacingAndGlyphs">50.765</text>
<text x="1211.8" y="97"  textLength="27.3" lengthAdjust="spacingAndGlyphs">49.940</text>
<text x="1211.8" y="130"  textLength="27.3" lengthAdjust="spacingAndGlyphs">49.090</text>
<text x="1211.8" y="163"  textLength="27.3" lengthAdjust="spacingAndGlyphs">48.240</text>
<text x="1211.8" y="196"  textLength="27.3" lengthAdjust="spacingAndGlyphs">47.390</text>
<text x="1211.8" y="229"  textLength="27.3" lengthAdjust="spacingAndGlyphs">46.540</text>
<text x="1211.8" y="262"  textLength="27.3" lengthAdjust="spacingAndGlyphs">45.715</text>
<text x="1211.8" y="295"  textLength="27.3" lengthAdjust="spacingAndGlyphs">44.865</text>
<text x="1211.8" y="328"  textLength="27.3" lengthAdjust="spacingAndGlyphs">44.040</text>
<text x="1211.8" y="361"  textLength="27.3" lengthAdjust="spacingAndGlyphs">43.190</text>
<text x="1211.8" y="394"  textLength="27.3" lengthAdjust="spacingAndGlyphs">42.340</text>
<text x="1211.8" y="427"  textLength="27.3" lengthAdjust="spacingAndGlyphs">41.495</text>
<g class="c">
<rect x="1209" y="83" width="34" height="1" fill="#000"/>
<rect x="1209" y="84" width="34" height="11" fill="#00d000"/>
<rect x="1209" y="221" width="34" height="11" fill="#4058e6"/>
<rect x="1209" y="339" width="34" height="11" fill="#4058e6"/>
<rect x="1209" y="417" width="34" height="11" fill="#4058e6"/>
</g>
<text x="1211.8" y="93" class="w" textLength="27.3" lengthAdjust="spacingAndGlyphs">50.000</text>
<text x="1211.8" y="230" class="w" textLength="27.3" lengthAdjust="spacingAndGlyphs">46.500</text>
<text x="1211.8" y="348" class="w" textLength="27.3" lengthAdjust="spacingAndGlyphs">43.500</text>
<text x="1211.8" y="426" class="w" textLength="27.3" lengthAdjust="spacingAndGlyphs">41.500</text>
<path d="M4 37 L11 37 L7.5 41Z" fill="#000"/>
<text x="15.5" y="42"  textLength="43.4" lengthAdjust="spacingAndGlyphs">UKOil-,H4</text>
<text x="65" y="42"  textLength="27" lengthAdjust="spacingAndGlyphs">49.910</text>
<text x="95.8" y="42"  textLength="27" lengthAdjust="spacingAndGlyphs">50.160</text>
<text x="127" y="42"  textLength="27" lengthAdjust="spacingAndGlyphs">49.900</text>
<text x="157.6" y="42"  textLength="27" lengthAdjust="spacingAndGlyphs">50.050</text>
<text x="773.4" y="307.3" style="font-size:36px;fill:#ff0000;stroke:none">多空转折点<tspan style="font-size:37px" dx="-0.3">50</tspan></text>
<g class="c">
<rect x="1" y="510" width="1" height="49" fill="#c0c0c0"/>
<rect x="9" y="499" width="1" height="60" fill="#c0c0c0"/>
<rect x="17" y="496" width="1" height="63" fill="#c0c0c0"/>
<rect x="25" y="494" width="1" height="65" fill="#c0c0c0"/>
<rect x="33" y="486" width="1" height="73" fill="#c0c0c0"/>
<rect x="41" y="480" width="1" height="79" fill="#c0c0c0"/>
<rect x="49" y="473" width="1" height="86" fill="#c0c0c0"/>
<rect x="57" y="466" width="1" height="93" fill="#c0c0c0"/>
<rect x="65" y="457" width="1" height="102" fill="#c0c0c0"/>
<rect x="73" y="451" width="1" height="108" fill="#c0c0c0"/>
<rect x="81" y="443" width="1" height="116" fill="#c0c0c0"/>
<rect x="89" y="441" width="1" height="118" fill="#c0c0c0"/>
<rect x="97" y="440" width="1" height="119" fill="#c0c0c0"/>
<rect x="105" y="442" width="1" height="117" fill="#c0c0c0"/>
<rect x="113" y="451" width="1" height="108" fill="#c0c0c0"/>
<rect x="121" y="455" width="1" height="104" fill="#c0c0c0"/>
<rect x="129" y="462" width="1" height="97" fill="#c0c0c0"/>
<rect x="137" y="470" width="1" height="89" fill="#c0c0c0"/>
<rect x="145" y="470" width="1" height="89" fill="#c0c0c0"/>
<rect x="153" y="480" width="1" height="79" fill="#c0c0c0"/>
<rect x="161" y="489" width="1" height="70" fill="#c0c0c0"/>
<rect x="169" y="499" width="1" height="60" fill="#c0c0c0"/>
<rect x="177" y="508" width="1" height="51" fill="#c0c0c0"/>
<rect x="185" y="516" width="1" height="43" fill="#c0c0c0"/>
<rect x="193" y="523" width="1" height="36" fill="#c0c0c0"/>
<rect x="201" y="529" width="1" height="30" fill="#c0c0c0"/>
<rect x="209" y="536" width="1" height="23" fill="#c0c0c0"/>
<rect x="217" y="539" width="1" height="20" fill="#c0c0c0"/>
<rect x="225" y="539" width="1" height="20" fill="#c0c0c0"/>
<rect x="233" y="537" width="1" height="22" fill="#c0c0c0"/>
<rect x="241" y="531" width="1" height="28" fill="#c0c0c0"/>
<rect x="249" y="524" width="1" height="35" fill="#c0c0c0"/>
<rect x="257" y="523" width="1" height="36" fill="#c0c0c0"/>
<rect x="265" y="522" width="1" height="37" fill="#c0c0c0"/>
<rect x="273" y="520" width="1" height="39" fill="#c0c0c0"/>
<rect x="281" y="523" width="1" height="36" fill="#c0c0c0"/>
<rect x="289" y="525" width="1" height="34" fill="#c0c0c0"/>
<rect x="297" y="531" width="1" height="28" fill="#c0c0c0"/>
<rect x="305" y="531" width="1" height="28" fill="#c0c0c0"/>
<rect x="313" y="532" width="1" height="27" fill="#c0c0c0"/>
<rect x="321" y="533" width="1" height="26" fill="#c0c0c0"/>
<rect x="329" y="532" width="1" height="27" fill="#c0c0c0"/>
<rect x="337" y="525" width="1" height="34" fill="#c0c0c0"/>
<rect x="345" y="521" width="1" height="38" fill="#c0c0c0"/>
<rect x="353" y="522" width="1" height="37" fill="#c0c0c0"/>
<rect x="361" y="524" width="1" height="35" fill="#c0c0c0"/>
<rect x="369" y="526" width="1" height="33" fill="#c0c0c0"/>
<rect x="377" y="528" width="1" height="31" fill="#c0c0c0"/>
<rect x="385" y="529" width="1" height="30" fill="#c0c0c0"/>
<rect x="393" y="532" width="1" height="27" fill="#c0c0c0"/>
<rect x="401" y="532" width="1" height="27" fill="#c0c0c0"/>
<rect x="409" y="534" width="1" height="25" fill="#c0c0c0"/>
<rect x="417" y="535" width="1" height="24" fill="#c0c0c0"/>
<rect x="425" y="534" width="1" height="25" fill="#c0c0c0"/>
<rect x="433" y="534" width="1" height="25" fill="#c0c0c0"/>
<rect x="441" y="534" width="1" height="25" fill="#c0c0c0"/>
<rect x="449" y="529" width="1" height="30" fill="#c0c0c0"/>
<rect x="457" y="525" width="1" height="34" fill="#c0c0c0"/>
<rect x="465" y="522" width="1" height="37" fill="#c0c0c0"/>
<rect x="473" y="520" width="1" height="39" fill="#c0c0c0"/>
<rect x="481" y="514" width="1" height="45" fill="#c0c0c0"/>
<rect x="489" y="512" width="1" height="47" fill="#c0c0c0"/>
<rect x="497" y="507" width="1" height="52" fill="#c0c0c0"/>
<rect x="505" y="504" width="1" height="55" fill="#c0c0c0"/>
<rect x="513" y="503" width="1" height="56" fill="#c0c0c0"/>
<rect x="521" y="496" width="1" height="63" fill="#c0c0c0"/>
<rect x="529" y="494" width="1" height="65" fill="#c0c0c0"/>
<rect x="537" y="491" width="1" height="68" fill="#c0c0c0"/>
<rect x="545" y="478" width="1" height="81" fill="#c0c0c0"/>
<rect x="553" y="468" width="1" height="91" fill="#c0c0c0"/>
<rect x="561" y="461" width="1" height="98" fill="#c0c0c0"/>
<rect x="569" y="453" width="1" height="106" fill="#c0c0c0"/>
<rect x="577" y="447" width="1" height="112" fill="#c0c0c0"/>
<rect x="585" y="445" width="1" height="114" fill="#c0c0c0"/>
<rect x="593" y="444" width="1" height="115" fill="#c0c0c0"/>
<rect x="601" y="442" width="1" height="117" fill="#c0c0c0"/>
<rect x="609" y="440" width="1" height="119" fill="#c0c0c0"/>
<rect x="617" y="450" width="1" height="109" fill="#c0c0c0"/>
<rect x="625" y="458" width="1" height="101" fill="#c0c0c0"/>
<rect x="633" y="465" width="1" height="94" fill="#c0c0c0"/>
<rect x="641" y="472" width="1" height="87" fill="#c0c0c0"/>
<rect x="649" y="478" width="1" height="81" fill="#c0c0c0"/>
<rect x="657" y="484" width="1" height="75" fill="#c0c0c0"/>
<rect x="665" y="487" width="1" height="72" fill="#c0c0c0"/>
<rect x="673" y="490" width="1" height="69" fill="#c0c0c0"/>
<rect x="681" y="492" width="1" height="67" fill="#c0c0c0"/>
<rect x="689" y="498" width="1" height="61" fill="#c0c0c0"/>
<rect x="697" y="503" width="1" height="56" fill="#c0c0c0"/>
<rect x="705" y="511" width="1" height="48" fill="#c0c0c0"/>
<rect x="713" y="518" width="1" height="41" fill="#c0c0c0"/>
<rect x="721" y="520" width="1" height="39" fill="#c0c0c0"/>
<rect x="729" y="521" width="1" height="38" fill="#c0c0c0"/>
<rect x="737" y="525" width="1" height="34" fill="#c0c0c0"/>
<rect x="745" y="529" width="1" height="30" fill="#c0c0c0"/>
<rect x="753" y="527" width="1" height="32" fill="#c0c0c0"/>
<rect x="761" y="529" width="1" height="30" fill="#c0c0c0"/>
<rect x="769" y="535" width="1" height="24" fill="#c0c0c0"/>
<rect x="777" y="540" width="1" height="19" fill="#c0c0c0"/>
<rect x="785" y="545" width="1" height="14" fill="#c0c0c0"/>
<rect x="793" y="551" width="1" height="8" fill="#c0c0c0"/>
<rect x="801" y="552" width="1" height="7" fill="#c0c0c0"/>
<rect x="809" y="554" width="1" height="5" fill="#c0c0c0"/>
<rect x="817" y="546" width="1" height="13" fill="#c0c0c0"/>
<rect x="825" y="544" width="1" height="15" fill="#c0c0c0"/>
<rect x="833" y="542" width="1" height="17" fill="#c0c0c0"/>
<rect x="841" y="539" width="1" height="20" fill="#c0c0c0"/>
<rect x="849" y="535" width="1" height="24" fill="#c0c0c0"/>
<rect x="857" y="536" width="1" height="23" fill="#c0c0c0"/>
<rect x="865" y="533" width="1" height="26" fill="#c0c0c0"/>
<rect x="873" y="529" width="1" height="30" fill="#c0c0c0"/>
<rect x="881" y="526" width="1" height="33" fill="#c0c0c0"/>
<rect x="889" y="516" width="1" height="43" fill="#c0c0c0"/>
<rect x="897" y="507" width="1" height="52" fill="#c0c0c0"/>
<rect x="905" y="506" width="1" height="53" fill="#c0c0c0"/>
<rect x="913" y="508" width="1" height="51" fill="#c0c0c0"/>
<rect x="921" y="509" width="1" height="50" fill="#c0c0c0"/>
<rect x="929" y="510" width="1" height="49" fill="#c0c0c0"/>
<rect x="937" y="513" width="1" height="46" fill="#c0c0c0"/>
<rect x="945" y="514" width="1" height="45" fill="#c0c0c0"/>
<rect x="953" y="516" width="1" height="43" fill="#c0c0c0"/>
<rect x="961" y="521" width="1" height="38" fill="#c0c0c0"/>
<rect x="969" y="524" width="1" height="35" fill="#c0c0c0"/>
<rect x="977" y="528" width="1" height="31" fill="#c0c0c0"/>
<rect x="985" y="532" width="1" height="27" fill="#c0c0c0"/>
<rect x="993" y="538" width="1" height="21" fill="#c0c0c0"/>
<rect x="1001" y="540" width="1" height="19" fill="#c0c0c0"/>
<rect x="1009" y="542" width="1" height="17" fill="#c0c0c0"/>
<rect x="1017" y="544" width="1" height="15" fill="#c0c0c0"/>
<rect x="1025" y="543" width="1" height="16" fill="#c0c0c0"/>
<rect x="1033" y="544" width="1" height="15" fill="#c0c0c0"/>
<rect x="1041" y="546" width="1" height="13" fill="#c0c0c0"/>
<rect x="1049" y="541" width="1" height="18" fill="#c0c0c0"/>
<rect x="1057" y="540" width="1" height="19" fill="#c0c0c0"/>
<rect x="1065" y="540" width="1" height="19" fill="#c0c0c0"/>
<rect x="1073" y="541" width="1" height="18" fill="#c0c0c0"/>
<rect x="1081" y="542" width="1" height="17" fill="#c0c0c0"/>
<rect x="1089" y="542" width="1" height="17" fill="#c0c0c0"/>
<rect x="1097" y="541" width="1" height="18" fill="#c0c0c0"/>
<rect x="1105" y="538" width="1" height="21" fill="#c0c0c0"/>
<rect x="1113" y="525" width="1" height="34" fill="#c0c0c0"/>
<rect x="1121" y="518" width="1" height="41" fill="#c0c0c0"/>
<rect x="1129" y="513" width="1" height="46" fill="#c0c0c0"/>
<rect x="1137" y="510" width="1" height="49" fill="#c0c0c0"/>
<rect x="1145" y="510" width="1" height="49" fill="#c0c0c0"/>
<rect x="1153" y="509" width="1" height="50" fill="#c0c0c0"/>
<rect x="1161" y="512" width="1" height="47" fill="#c0c0c0"/>
<rect x="1169" y="514" width="1" height="45" fill="#c0c0c0"/>
<rect x="1177" y="517" width="1" height="42" fill="#c0c0c0"/>
<rect x="1185" y="519" width="1" height="40" fill="#c0c0c0"/>
</g>
<path class="c" d="M120 448.5h4M135 448.5h4M623 448.5h5M631 448.5h4M519 511.5h2M743 511.5h2M943 511.5h5M959 511.5h5M521 510.5h2M951 510.5h5M839 545.5h5M15 529.5h2M247 529.5h5M271 529.5h5M423 529.5h5M471 529.5h4M784 529.5h3M1135 529.5h2M105 454.5h2M151 454.5h2M647 454.5h2M831 544.5h5M847 544.5h5M513 514.5h2M23 524.5h2M234 524.5h2M303 524.5h5M488 524.5h3M904 524.5h3M1000 524.5h3M255 530.5h5M263 530.5h5M431 530.5h5M463 530.5h5M1015 530.5h2M439 531.5h5M455 531.5h5M889 531.5h2M1017 531.5h2M695 484.5h2M288 526.5h4M319 526.5h5M367 526.5h5M375 526.5h5M383 526.5h5M391 526.5h5M407 526.5h5M480 526.5h4M776 526.5h3M97 458.5h2M159 458.5h2M655 458.5h2M226 518.5h2M504 518.5h3M759 518.5h2M920 518.5h3M984 518.5h3M511 515.5h2M752 515.5h3M928 515.5h3M976 515.5h3M703 489.5h2M816 541.5h4M864 541.5h3M1063 541.5h5M1071 541.5h5M1079 541.5h5M1087 541.5h5M1095 541.5h5M127 447.5h5M570 481.5h2M690 481.5h2M295 525.5h5M311 525.5h5M399 525.5h5M1144 525.5h3M745 512.5h2M936 512.5h4M967 512.5h4M616 449.5h4M7 533.5h2M793 533.5h2M767 522.5h2M1152 522.5h3M18 527.5h2M239 527.5h2M327 527.5h5M335 527.5h5M343 527.5h5M351 527.5h5M359 527.5h5M897 527.5h2M1008 527.5h3M1168 516.5h3M1024 534.5h4M880 535.5h3M1120 535.5h3M737 508.5h2M769 523.5h2M705 490.5h2M543 499.5h2M721 499.5h2M241 528.5h3M279 528.5h5M416 528.5h4M895 528.5h2M1137 528.5h2M1047 540.5h5M1055 540.5h5M1103 540.5h5M586 469.5h2M674 469.5h2M578 475.5h2M682 475.5h2M111 451.5h2M144 451.5h3M640 451.5h3M90 463.5h2M594 463.5h2M872 538.5h3M1112 538.5h3M698 486.5h2M9 532.5h2M447 532.5h5M791 532.5h2M887 532.5h2M1128 532.5h3M1 536.5h2M800 536.5h3M1032 536.5h3M535 503.5h2M103 455.5h2M153 455.5h2M649 455.5h2M609 452.5h2M602 457.5h2M1176 513.5h4M1183 513.5h3M113 450.5h3M671 467.5h2M554 493.5h2M711 493.5h2M824 543.5h4M855 543.5h5M496 521.5h3M912 521.5h3M992 521.5h3M527 507.5h2M735 507.5h2M761 519.5h2M1160 519.5h3M545 498.5h2M719 498.5h2M808 539.5h4M1040 539.5h4M657 459.5h2M562 487.5h2M663 462.5h2M537 502.5h2M727 502.5h2M529 506.5h2M730 504.5h2M666 464.5h2M551 495.5h2M714 495.5h2M531.5 505v1M923.5 517v1M25.5 523v1M688.5 479v1M217.5 510v1M891.5 530v1M823.5 542v1M491.5 523v1M178.5 475v1M161.5 459v1M51.5 498v1M747.5 513v1M987.5 519v1M739.5 509v1M593.5 464v1M1155.5 521v1M523.5 509v1M931.5 514v1M162.5 460v1M219.5 512v1M1023.5 533v1M202.5 496v1M83.5 469v1M787.5 530v1M1039.5 538v1M591.5 466v1M592.5 465v1M971.5 513v1M689.5 480v1M567.5 484v1M1163.5 518v1M179.5 476v1M795.5 534v1M81.5 471v1M87.5 466v1M34.5 515v1M1139.5 527v1M41.5 508v1M42.5 507v1M107.5 453v1M499.5 520v1M168.5 466v1M203.5 497v1M163.5 461v1M32.5 517v1M191.5 486v1M39.5 510v1M74.5 477v1M40.5 509v1M75.5 476v1M1171.5 515v1M176.5 473v1M169.5 467v1M615.5 450v1M1147.5 524v1M935.5 513v1M575.5 478v1M561.5 488v1M911.5 522v1M72.5 479v1M507.5 517v1M73.5 478v1M713.5 494v1M200.5 494v1M193.5 488v1M681.5 474v1M17.5 528v1M783.5 528v1M751.5 514v1M1143.5 526v1M635.5 449v1M143.5 450v1M170.5 468v1M919.5 519v1M210.5 504v1M201.5 495v1M194.5 489v1M211.5 505v1M1151.5 523v1M88.5 465v1M927.5 516v1M207.5 501v1M167.5 465v1M487.5 525v1M195.5 490v1M995.5 522v1M50.5 499v1M771.5 524v1M1159.5 520v1M763.5 520v1M600.5 459v1M48.5 501v1M601.5 458v1M755.5 516v1M49.5 500v1M576.5 477v1M495.5 522v1M147.5 452v1M539.5 501v1M208.5 502v1M79.5 473v1M867.5 540v1M599.5 460v1M803.5 537v1M47.5 502v1M899.5 526v1M991.5 520v1M209.5 503v1M185.5 481v1M192.5 487v1M475.5 528v1M3.5 535v1M503.5 519v1M67.5 483v1M875.5 537v1M1167.5 517v1M584.5 471v1M569.5 482v1M907.5 523v1M559.5 490v1M65.5 485v1M66.5 484v1M71.5 480v1M1115.5 537v1M799.5 535v1M975.5 514v1M64.5 486v1M1175.5 514v1M35.5 514v1M171.5 469v1M415.5 527v1M59.5 490v1M1019.5 532v1M723.5 500v1M1011.5 528v1M119.5 449v1M707.5 491v1M673.5 468v1M1123.5 534v1M651.5 456v1M883.5 534v1M57.5 492v1M223.5 515v1M183.5 479v1M63.5 487v1M287.5 527v1M729.5 503v1M96.5 459v1M55.5 494v1M979.5 516v1M56.5 493v1M1131.5 531v1M95.5 460v1M155.5 456v1M1007.5 526v1M231.5 521v1M224.5 516v1M863.5 542v1M177.5 474v1M184.5 480v1M585.5 470v1M639.5 450v1M99.5 457v1M1127.5 533v1M607.5 454v1M560.5 489v1M608.5 453v1M779.5 527v1M225.5 517v1M697.5 485v1M218.5 511v1M583.5 472v1M186.5 482v1M232.5 522v1M611.5 451v1M89.5 464v1M43.5 506v1M903.5 525v1M547.5 497v1M479.5 527v1M815.5 540v1M1111.5 539v1M871.5 539v1M233.5 523v1M139.5 449v1M999.5 523v1M643.5 452v1M568.5 483v1M553.5 494v1M58.5 491v1M82.5 470v1M775.5 525v1M515.5 513v1M1035.5 537v1M577.5 476v1M187.5 483v1M215.5 508v1M915.5 520v1M659.5 460v1M175.5 472v1M983.5 517v1M679.5 472v1M80.5 472v1M1119.5 536v1M27.5 521v1M33.5 516v1M879.5 536v1M807.5 538v1M199.5 493v1M216.5 509v1M11.5 531v1M680.5 473v1M26.5 522v1M665.5 463v1M31.5 518v1M1003.5 525v1M687.5 478v1M1031.5 535v1" fill="none" stroke="#ff0000" stroke-width="1"/>
<text x="4.4" y="441.7"  textLength="127.6" lengthAdjust="spacingAndGlyphs">MACD(12,26,9) 0.3601 0.4066</text>
<text x="1209.8" y="439"  textLength="27.4" lengthAdjust="spacingAndGlyphs">1.1717</text>
<text x="1212.4" y="555.8"  textLength="28" lengthAdjust="spacingAndGlyphs">0.0172</text>
<clipPath id="c0"><rect x="1207" y="553" width="40" height="6.5"/></clipPath>
<g clip-path="url(#c0)">
<text x="1209.5" y="562.3"  textLength="17.5" lengthAdjust="spacingAndGlyphs">0.00</text>
</g>
<g class="c">
<line x1="2" y1="596.5" x2="1206" y2="596.5" stroke="#c0c0c0" stroke-width="1" stroke-dasharray="3 3"/>
<line x1="2" y1="641.5" x2="1206" y2="641.5" stroke="#c0c0c0" stroke-width="1" stroke-dasharray="3 3"/>
</g>
<path class="c" d="M160 614.5h3M224 614.5h3M302 614.5h2M318 614.5h5M376 614.5h3M396 614.5h2M407 614.5h2M412 614.5h4M715 614.5h2M858 614.5h2M964 614.5h4M971 614.5h3M1022 614.5h2M1027 614.5h3M1070 614.5h2M1083 614.5h3M153 612.5h3M229 612.5h2M281 612.5h9M305 612.5h5M325 612.5h2M356 612.5h4M366 612.5h6M382 612.5h2M386 612.5h2M399 612.5h2M403 612.5h2M419 612.5h3M438 612.5h4M719 612.5h2M828 612.5h4M836 612.5h4M1062 612.5h5M1088 612.5h10M136 609.5h2M234 609.5h2M726 609.5h2M845 609.5h2M867 609.5h3M910 609.5h2M920 609.5h14M940 609.5h4M950 609.5h4M1052 609.5h2M1100 609.5h2M1161 609.5h5M1174 609.5h6M545 586.5h5M134 608.5h2M257 608.5h11M728 608.5h2M820 608.5h2M847 608.5h2M870 608.5h2M944 608.5h6M1166 608.5h8M1180 608.5h4M278 610.5h2M424 610.5h6M689 610.5h9M723 610.5h3M823 610.5h2M843 610.5h2M865 610.5h2M916 610.5h4M934 610.5h6M954 610.5h2M2 595.5h2M60 595.5h4M534 595.5h2M1116 595.5h2M107 603.5h3M243 603.5h2M342 603.5h4M449 603.5h5M672 603.5h4M884 603.5h2M1144 603.5h6M156 613.5h4M227 613.5h2M290 613.5h2M310 613.5h8M323 613.5h2M360 613.5h6M372 613.5h4M379 613.5h3M388 613.5h2M405 613.5h2M416 613.5h3M717 613.5h2M832 613.5h4M860 613.5h2M958 613.5h2M968 613.5h3M1024 613.5h3M1057 613.5h5M1067 613.5h3M1086 613.5h2M167 617.5h2M172 617.5h4M180 617.5h4M215 617.5h2M298 617.5h2M707 617.5h3M744 617.5h2M765 617.5h2M982 617.5h4M1004 617.5h4M1012 617.5h4M1038 617.5h4M190 619.5h8M212 619.5h2M769 619.5h3M804 619.5h4M988 619.5h2M564 584.5h4M580 584.5h4M596 584.5h4M165 616.5h2M176 616.5h4M217 616.5h3M294 616.5h2M710 616.5h2M740 616.5h4M763 616.5h2M976 616.5h6M1001 616.5h3M1016 616.5h3M1032 616.5h6M163 615.5h2M220 615.5h4M391 615.5h2M394 615.5h2M409 615.5h3M712 615.5h3M737 615.5h3M761 615.5h2M961 615.5h3M974 615.5h2M1019 615.5h3M1030 615.5h2M1072 615.5h11M105 602.5h2M245 602.5h2M337 602.5h5M454 602.5h8M663 602.5h2M668 602.5h4M676 602.5h4M1142 602.5h2M1150 602.5h4M33 600.5h11M474 600.5h2M491 600.5h2M1134 600.5h5M44 599.5h4M486 599.5h2M493 599.5h2M512 599.5h2M889 599.5h3M1121 599.5h13M75 593.5h2M96 593.5h2M522 593.5h2M112 605.5h6M124 605.5h4M622 605.5h8M638 605.5h16M658 605.5h2M1156 605.5h2M169 618.5h3M184 618.5h6M705 618.5h2M767 618.5h2M801 618.5h3M986 618.5h2M998 618.5h2M1008 618.5h4M231 611.5h2M327 611.5h2M353 611.5h3M384 611.5h2M401 611.5h2M422 611.5h2M430 611.5h8M721 611.5h2M732 611.5h2M825 611.5h3M840 611.5h3M863 611.5h2M913 611.5h3M64 594.5h11M524 594.5h2M536 594.5h2M52 597.5h4M478 597.5h2M497 597.5h5M507 597.5h3M529 597.5h2M896 597.5h2M14 604.5h2M28 604.5h2M110 604.5h2M118 604.5h6M241 604.5h2M630 604.5h8M660 604.5h2M56 596.5h4M482 596.5h2M502 596.5h5M516 596.5h2M527 596.5h2M531 596.5h3M550 585.5h14M584 585.5h12M17 606.5h5M128 606.5h3M140 606.5h2M238 606.5h2M272 606.5h2M617 606.5h5M654 606.5h4M878 606.5h4M906 606.5h2M81 590.5h10M10 601.5h2M247 601.5h2M462 601.5h12M489 601.5h2M665 601.5h3M680 601.5h2M1139 601.5h3M206 621.5h4M776 621.5h4M991 621.5h2M994 621.5h2M22 607.5h4M131 607.5h3M268 607.5h4M274 607.5h2M818 607.5h2M872 607.5h6M1184 607.5h2M568 583.5h12M600 583.5h6M79 591.5h2M91 591.5h3M6 598.5h2M48 598.5h4M495 598.5h2M510 598.5h2M892 598.5h4M198 620.5h8M210 620.5h2M772 620.5h4M808 620.5h2M77 592.5h2M94 592.5h2M606 582.5h4M780 622.5h4M796 622.5h2M788 624.5h4M784 623.5h4M792 625.5h2M521.5 592v1M701.5 614v1M276.5 608v1M102.5 599v1M254.5 605v1M27.5 605v1M9.5 600v1M237.5 607v1M519.5 594v1M151.5 609v2M520.5 593v1M103.5 600v1M330.5 609v1M476.5 599v1M957.5 612v1M26.5 606v1M16.5 605v1M613.5 593v3M236.5 608v1M687.5 608v1M1048.5 607v2M615.5 599v3M1105.5 605v1M795.5 623v1M611.5 587v3M813.5 613v1M488.5 600v1M814.5 611v2M480.5 596v1M336.5 603v1M255.5 606v1M30.5 603v1M703.5 616v1M614.5 596v3M688.5 609v1M698.5 611v1M1118.5 596v1M682.5 602v1M812.5 614v2M104.5 601v1M856.5 614v1M704.5 617v1M1119.5 597v1M887.5 601v1M1050.5 607v1M888.5 600v1M822.5 609v1M700.5 613v1M5.5 597v1M1103.5 607v1M526.5 595v1M138.5 608v1M886.5 602v1M214.5 618v1M746.5 616v1M810.5 618v2M612.5 590v3M996.5 620v1M685.5 605v2M1158.5 606v1M816.5 607v2M142.5 605v1M1111.5 595v2M1051.5 608v1M1113.5 592v1M736.5 614v1M1000.5 617v1M448.5 604v1M32.5 601v1M101.5 597v2M956.5 611v1M702.5 615v1M444.5 609v1M514.5 598v1M445.5 607v2M31.5 602v1M543.5 588v1M240.5 605v1M1042.5 615v2M152.5 611v1M799.5 620v1M800.5 619v1M1160.5 608v1M815.5 609v2M518.5 595v1M909.5 608v1M1107.5 601v2M1109.5 598v2M98.5 594v1M757.5 611v1M335.5 604v1M541.5 590v1M616.5 602v3M542.5 589v1M147.5 604v2M751.5 609v2M753.5 607v1M1106.5 603v2M1108.5 600v1M540.5 591v1M734.5 612v1M4.5 596v1M683.5 603v1M747.5 614v2M749.5 612v1M750.5 611v1M1102.5 608v1M990.5 620v1M99.5 595v1M352.5 610v1M333.5 606v1M539.5 592v1M811.5 616v2M899.5 599v1M100.5 596v1M348.5 606v1M609.5 583v1M293.5 615v1M12.5 602v1M1112.5 593v2M331.5 608v1M617.5 605v1M684.5 604v1M296.5 617v1M149.5 607v1M755.5 609v1M484.5 597v1M1159.5 607v1M13.5 603v1M908.5 607v1M1114.5 593v1M662.5 603v1M850.5 608v1M297.5 618v1M1045.5 611v2M280.5 611v1M610.5 584v3M393.5 616v1M301.5 615v1M447.5 605v1M1.5 594v1M252.5 603v1M350.5 608v1M862.5 612v1M485.5 598v1M794.5 624v1M1115.5 594v1M443.5 610v1M346.5 604v1M300.5 616v1M139.5 607v1M1154.5 603v1M798.5 621v1M903.5 603v1M758.5 612v1M857.5 615v1M347.5 605v1M334.5 605v1M442.5 611v1M1110.5 597v1M148.5 606v1M253.5 604v1M754.5 608v1M853.5 611v1M1054.5 610v1M735.5 613v1M477.5 598v1M332.5 607v1M249.5 600v1M849.5 607v1M538.5 593v1M1155.5 604v1M1055.5 611v1M904.5 604v1M748.5 613v1M686.5 607v1M481.5 595v1M759.5 613v1M544.5 587v1M900.5 600v1M854.5 612v1M349.5 607v1M905.5 605v1M760.5 614v1M277.5 609v1M960.5 614v1M250.5 601v1M150.5 608v1M390.5 614v1M329.5 610v1M756.5 610v1M855.5 613v1M901.5 601v1M912.5 610v1M1056.5 612v1M1047.5 609v1M1099.5 610v1M730.5 609v1M1049.5 606v1M1104.5 606v1M251.5 602v1M851.5 609v1M256.5 607v1M446.5 606v1M699.5 612v1M145.5 602v1M1043.5 614v1M882.5 605v1M1044.5 613v1M1046.5 610v1M883.5 604v1M304.5 613v1M144.5 603v1M902.5 602v1M1098.5 611v1M351.5 609v1M143.5 604v1M993.5 622v1M8.5 599v1M731.5 610v1M752.5 608v1M898.5 598v1M852.5 610v1M292.5 614v1M1120.5 598v1M146.5 603v1M997.5 619v1M817.5 606v1M233.5 610v1M398.5 613v1M515.5 597v1" fill="none" stroke="#1e90ff" stroke-width="1"/>
<text x="4.5" y="574"  textLength="68" lengthAdjust="spacingAndGlyphs">RSI(14) 60.0002</text>
<text x="1210.2" y="572"  textLength="14.2" lengthAdjust="spacingAndGlyphs">100</text>
<text x="1208.9" y="600"  textLength="9.3" lengthAdjust="spacingAndGlyphs">70</text>
<text x="1208.9" y="645"  textLength="9.3" lengthAdjust="spacingAndGlyphs">30</text>
<text x="1209.6" y="672.3"  textLength="5" lengthAdjust="spacingAndGlyphs">0</text>
<text x="0.4" y="688.2"  textLength="48.3" lengthAdjust="spacingAndGlyphs">9 Nov 2020</text>
<text x="64.4" y="688.2"  textLength="55.5" lengthAdjust="spacingAndGlyphs">10 Nov 21:00</text>
<text x="128.4" y="688.2"  textLength="55.5" lengthAdjust="spacingAndGlyphs">12 Nov 05:00</text>
<text x="192.4" y="688.2"  textLength="55.5" lengthAdjust="spacingAndGlyphs">13 Nov 13:00</text>
<text x="256.4" y="688.2"  textLength="55.5" lengthAdjust="spacingAndGlyphs">16 Nov 16:00</text>
<text x="320.4" y="688.2"  textLength="55.5" lengthAdjust="spacingAndGlyphs">18 Nov 01:00</text>
<text x="384.4" y="688.2"  textLength="55.5" lengthAdjust="spacingAndGlyphs">19 Nov 09:00</text>
<text x="448.4" y="688.2"  textLength="55.5" lengthAdjust="spacingAndGlyphs">20 Nov 17:00</text>
<text x="512.4" y="688.2"  textLength="55.5" lengthAdjust="spacingAndGlyphs">23 Nov 20:00</text>
<text x="576.4" y="688.2"  textLength="55.5" lengthAdjust="spacingAndGlyphs">25 Nov 05:00</text>
<text x="640.4" y="688.2"  textLength="55.5" lengthAdjust="spacingAndGlyphs">26 Nov 17:00</text>
<text x="704.4" y="688.2"  textLength="55.5" lengthAdjust="spacingAndGlyphs">30 Nov 04:00</text>
<text x="768.4" y="688.2"  textLength="49" lengthAdjust="spacingAndGlyphs">1 Dec 13:00</text>
<text x="832.4" y="688.2"  textLength="49" lengthAdjust="spacingAndGlyphs">2 Dec 21:00</text>
<text x="896.4" y="688.2"  textLength="49" lengthAdjust="spacingAndGlyphs">4 Dec 05:00</text>
<text x="960.4" y="688.2"  textLength="49" lengthAdjust="spacingAndGlyphs">7 Dec 08:00</text>
<text x="1024.4" y="688.2"  textLength="49" lengthAdjust="spacingAndGlyphs">8 Dec 17:00</text>
<text x="1088.4" y="688.2"  textLength="53.7" lengthAdjust="spacingAndGlyphs">10 Dec 01:00</text>
<text x="1152.4" y="688.2"  textLength="53.7" lengthAdjust="spacingAndGlyphs">11 Dec 09:00</text>
<g class="c">
<rect x="0" y="696" width="1248" height="1" fill="#e0e0e0"/>
<rect x="0" y="697" width="1248" height="3" fill="#fafafa"/>
<rect x="0" y="698" width="83" height="1" fill="#2a2a2a"/>
<rect x="82" y="698" width="1" height="2" fill="#2a2a2a"/>
<rect x="161" y="698" width="1087" height="1" fill="#2a2a2a"/>
<rect x="161" y="698" width="1" height="2" fill="#2a2a2a"/>
</g>
</svg></body></html>
